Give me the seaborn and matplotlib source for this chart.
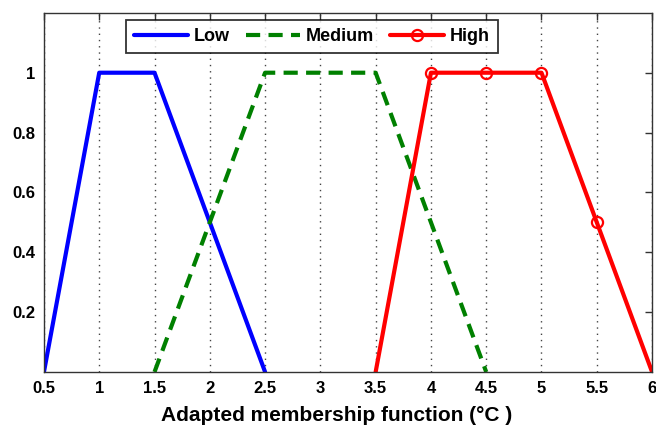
import matplotlib
matplotlib.use("Agg")
import matplotlib.pyplot as plt
import seaborn as sns
import pandas as pd

sns.set_style("white")
plt.rcParams['font.family'] = ['Liberation Sans', 'DejaVu Sans']
plt.rcParams['font.weight'] = 'bold'
plt.rcParams['text.color'] = 'black'
plt.rcParams['axes.labelcolor'] = 'black'

low_x = [0.5, 1.0, 1.5, 2.5]
low_y = [0.0, 1.0, 1.0, 0.0]
med_x = [1.5, 2.5, 3.5, 4.5]
med_y = [0.0, 1.0, 1.0, 0.0]
high_x = [3.5, 4.0, 4.5, 5.0, 5.5, 6.0]
high_y = [0.0, 1.0, 1.0, 1.0, 0.5, 0.0]
x_ticks = [0.5, 1, 1.5, 2, 2.5, 3, 3.5, 4, 4.5, 5, 5.5, 6]
x_tick_labels = ['0.5', '1', '1.5', '2', '2.5', '3', '3.5', '4', '4.5', '5', '5.5', '6']
y_ticks = [0.2, 0.4, 0.6, 0.8, 1.0]
y_tick_labels = ['0.2', '0.4', '0.6', '0.8', '1']
xlabel = 'Adapted membership function (°C )'

fig = plt.figure(figsize=(6.56, 4.29), dpi=100)
ax = fig.add_axes([0.067, 0.133, 0.927, 0.837])

sns.lineplot(x=low_x, y=low_y, ax=ax, color='#0000ff', lw=3, label='Low', sort=False)
sns.lineplot(x=med_x, y=med_y, ax=ax, color='#008000', lw=3, label='Medium', sort=False)
ax.lines[-1].set_linestyle((0, (3.4, 2.0)))
sns.lineplot(x=high_x, y=high_y, ax=ax, color='#ff0000', lw=3, label='High', sort=False,
             marker='o', markersize=8, markerfacecolor='none', markeredgecolor='#ff0000',
             markeredgewidth=1.6, markevery=[1, 2, 3, 4])

ax.set_xlim(0.5, 6)
ax.set_ylim(0, 1.2)
ax.set_xticks(x_ticks)
ax.set_xticklabels(x_tick_labels, fontsize=12, fontweight='bold')
ax.set_yticks(y_ticks)
ax.set_yticklabels(y_tick_labels, fontsize=12, fontweight='bold')
ax.tick_params(direction='in', length=5, width=1, top=True, right=True, pad=6.5, colors='#333333', labelcolor='black')
ax.xaxis.grid(True, linestyle=(0, (1, 3.5)), color='#444444', lw=1)
ax.yaxis.grid(False)
for s in ax.spines.values():
    s.set_color('#333333')
    s.set_linewidth(1)
ax.set_xlabel(xlabel, fontsize=15, fontweight='bold', labelpad=7, color='black')
ax.xaxis.label.set_x(0.482)
ax.set_ylabel('')

leg = ax.legend(ncol=3, loc='upper left', bbox_to_anchor=(126/656, 1 - 20/429),
                bbox_transform=fig.transFigure, fontsize=13, frameon=True, fancybox=False,
                handlelength=3.0, columnspacing=0.9, handletextpad=0.3, borderpad=0.45,
                borderaxespad=0)
leg.get_frame().set_edgecolor('black')
leg.get_frame().set_linewidth(1.3)
for t in leg.get_texts():
    t.set_fontweight('bold')
    t.set_color('black')

fig.savefig('out.png', dpi=100)
